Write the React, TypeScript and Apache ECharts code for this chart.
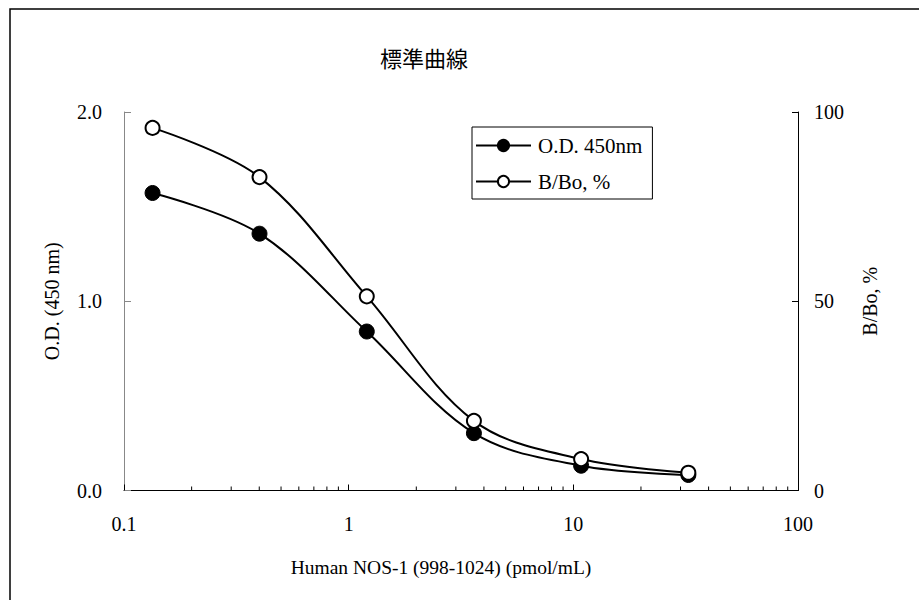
import React, { useEffect, useRef } from "react";
import * as echarts from "echarts";

const concentrations = [0.134, 0.401, 1.204, 3.61, 10.83, 32.5];
const odValues = [1.572, 1.357, 0.84, 0.303, 0.131, 0.082];
const bboValues = [95.8, 82.8, 51.3, 18.4, 8.3, 4.7];
const minorTickValues = [0.2, 0.3, 0.4, 0.5, 0.6, 0.7, 0.8, 0.9, 2, 3, 4, 5, 6, 7, 8, 9, 20, 30, 40, 50, 60, 70, 80, 90];
const leftTicks = [0, 1, 2];
const rightTicks = [0, 50, 100];

const SERIF = "'Liberation Serif', 'Times New Roman', serif";

export default function App() {
  const ref = useRef<HTMLDivElement>(null);
  useEffect(() => {
    if (!ref.current) return;
    const chart = echarts.init(ref.current, null, { renderer: "svg" });
    chart.setOption({
      animation: false,
      backgroundColor: "#fff",
      textStyle: { fontFamily: SERIF, color: "#000" },
      title: {
        text: "標準曲線",
        left: 375,
        top: 41,
        textStyle: { fontFamily: "'Noto Sans CJK JP'", fontSize: 22, fontWeight: "normal", color: "#000" },
      },
      graphic: [
        {
          type: "rect",
          z: -1,
          shape: { x: 10, y: 9, width: 1000, height: 1000 },
          style: { fill: "none", stroke: "#000", lineWidth: 1.5 },
        },
      ],
      legend: {
        data: ["O.D. 450nm", "B/Bo, %"],
        orient: "vertical",
        left: 472,
        top: 127,
        itemWidth: 55,
        itemHeight: 14,
        itemGap: 15,
        padding: [8, 10, 7, 3],
        borderColor: "#000",
        borderWidth: 1,
        textStyle: { fontFamily: SERIF, fontSize: 21, color: "#000", padding: [0, 0, 0, 2] },
      },
      grid: { left: 124, right: 121, top: 112, bottom: 109.5, containLabel: false },
      xAxis: {
        type: "log",
        logBase: 10,
        min: 0.1,
        max: 100,
        name: "Human NOS-1 (998-1024) (pmol/mL)",
        nameLocation: "middle",
        nameGap: 67,
        nameTextStyle: { fontFamily: SERIF, fontSize: 19.5, color: "#000", padding: [0, 40, 0, 0] },
        axisLine: { lineStyle: { color: "#000", width: 1 } },
        axisTick: { inside: true, length: 6, lineStyle: { color: "#000" } },
        axisLabel: { fontFamily: SERIF, fontSize: 20, color: "#000", margin: 23 },
        splitLine: { show: false },
      },
      yAxis: [
        {
          type: "value",
          min: 0,
          max: 2,
          interval: 1,
          name: "O.D. (450 nm)",
          nameLocation: "middle",
          nameGap: 62,
          nameTextStyle: { fontFamily: SERIF, fontSize: 20, color: "#000" },
          axisLine: { show: true, lineStyle: { color: "#888", width: 1 } },
          axisTick: { show: true, inside: true, length: 7, lineStyle: { color: "#888" } },
          axisLabel: {
            fontFamily: SERIF,
            fontSize: 20,
            color: "#000",
            margin: 22,
            formatter: (v: number) => (leftTicks.includes(v) ? v.toFixed(1) : ""),
          },
          splitLine: { show: false },
        },
        {
          type: "value",
          min: 0,
          max: 100,
          interval: 50,
          position: "right",
          name: "B/Bo, %",
          nameLocation: "middle",
          nameGap: 62,
          nameTextStyle: { fontFamily: SERIF, fontSize: 20, color: "#000" },
          axisLine: { show: true, lineStyle: { color: "#000", width: 1 } },
          axisTick: { show: true, inside: true, length: 6, lineStyle: { color: "#000" } },
          axisLabel: {
            fontFamily: SERIF,
            fontSize: 20,
            color: "#000",
            margin: 16,
            formatter: (v: number) => (rightTicks.includes(v) ? String(v) : ""),
          },
          splitLine: { show: false },
        },
      ],
      series: [
        {
          name: "minor",
          type: "custom",
          xAxisIndex: 0,
          yAxisIndex: 0,
          silent: true,
          data: minorTickValues.map((v) => [v, 0]),
          renderItem: (params: any, api: any) => {
            const p = api.coord([api.value(0), 0]);
            return {
              type: "line",
              shape: { x1: p[0], y1: p[1], x2: p[0], y2: p[1] - 4 },
              style: { stroke: "#000", lineWidth: 1 },
            };
          },
        },
        {
          name: "O.D. 450nm",
          type: "line",
          yAxisIndex: 0,
          smooth: 0.35,
          data: concentrations.map((c, i) => [c, odValues[i]]),
          symbol: "circle",
          symbolSize: 15,
          lineStyle: { color: "#000", width: 2 },
          itemStyle: { color: "#000", borderColor: "#000", borderWidth: 1 },
          z: 3,
        },
        {
          name: "B/Bo, %",
          type: "line",
          yAxisIndex: 1,
          smooth: 0.35,
          data: concentrations.map((c, i) => [c, bboValues[i]]),
          symbol: "circle",
          symbolSize: 14,
          lineStyle: { color: "#000", width: 2 },
          itemStyle: { color: "#fff", borderColor: "#000", borderWidth: 2 },
          z: 4,
        },
      ],
    });
    return () => chart.dispose();
  }, []);
  return (
    <div
      ref={ref}
      style={{ position: "absolute", left: 0, top: 0, width: 919, height: 600, background: "#fff" }}
    />
  );
}
